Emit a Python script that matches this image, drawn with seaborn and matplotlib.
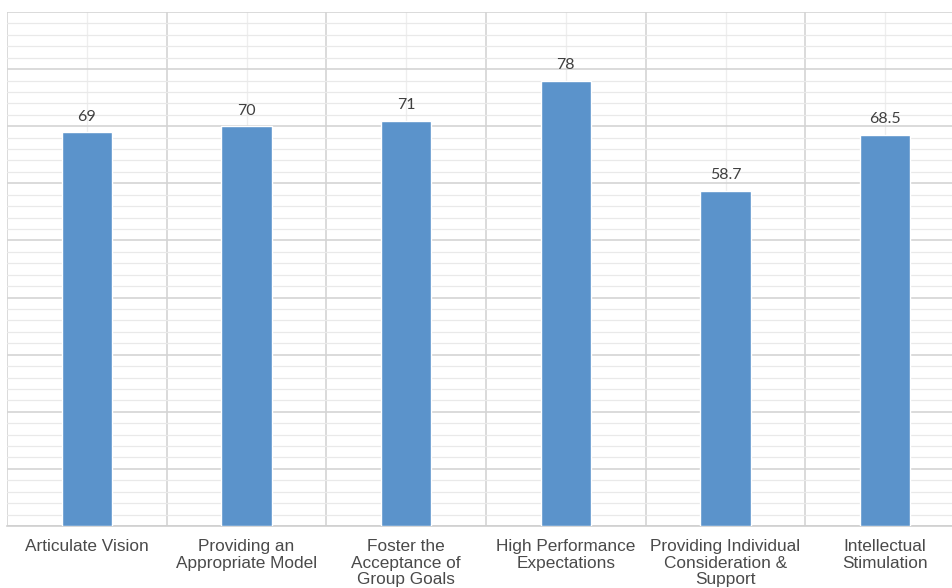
import matplotlib
matplotlib.use("Agg")
import matplotlib.pyplot as plt
from matplotlib.ticker import MultipleLocator, FixedLocator
import seaborn as sns
import pandas as pd

categories = [
    "Articulate Vision",
    "Providing an\nAppropriate Model",
    "Foster the\nAcceptance of\nGroup Goals",
    "High Performance\nExpectations",
    "Providing Individual\nConsideration &\nSupport",
    "Intellectual\nStimulation",
]
values = [69, 70, 71, 78, 58.7, 68.5]
value_labels = ["69", "70", "71", "78", "58.7", "68.5"]

df = pd.DataFrame({"category": categories, "score": values})

sns.set_style("white")
fig = plt.figure(figsize=(9.52, 5.88), dpi=100)
W, H = 952, 588
left, right, top, bottom = 7, 965, 12, 526
ax = fig.add_axes([left / W, (H - bottom) / H, (right - left) / W, (bottom - top) / H])

sns.barplot(data=df, x="category", y="score", color="#5B93CB", width=0.315,
            saturation=1, ax=ax, zorder=3)

ax.set_xlim(-0.5, 5.5)
ax.set_ylim(0, 90)

# grid: darker lines at category boundaries and every 10, lighter in between
ax.yaxis.set_major_locator(MultipleLocator(10))
ax.yaxis.set_minor_locator(MultipleLocator(2))
ax.xaxis.set_minor_locator(FixedLocator([i - 0.5 for i in range(7)]))
ax.yaxis.grid(True, which="major", color="#d4d4d4", linewidth=1.2, zorder=0)
ax.yaxis.grid(True, which="minor", color="#e9e9e9", linewidth=0.9, zorder=0)
ax.xaxis.grid(True, which="minor", color="#d4d4d4", linewidth=1.2, zorder=0)
ax.xaxis.grid(True, which="major", color="#eeeeee", linewidth=0.9, zorder=0)
ax.set_axisbelow(True)

for s in ax.spines.values():
    s.set_visible(False)
ax.spines["bottom"].set_visible(True)
ax.spines["bottom"].set_color("#d0d0d0")
ax.spines["bottom"].set_linewidth(1.2)

ax.set_yticklabels([])
ax.tick_params(axis="y", which="both", length=0)
ax.tick_params(axis="x", which="both", length=0, pad=9.5)
ax.set_xlabel("")
ax.set_ylabel("")
for lbl in ax.get_xticklabels():
    lbl.set_fontfamily("Liberation Sans")
    lbl.set_fontsize(12.4)
    lbl.set_color("#4a4a4a")
    lbl.set_linespacing(1.13)

for i, (v, t) in enumerate(zip(values, value_labels)):
    ax.annotate(t, xy=(i, v), xytext=(0, 6.0), textcoords="offset points",
                ha="center", va="bottom", fontsize=11.5, family="Lato",
                color="#404040")

fig.savefig("out.png", dpi=100)
